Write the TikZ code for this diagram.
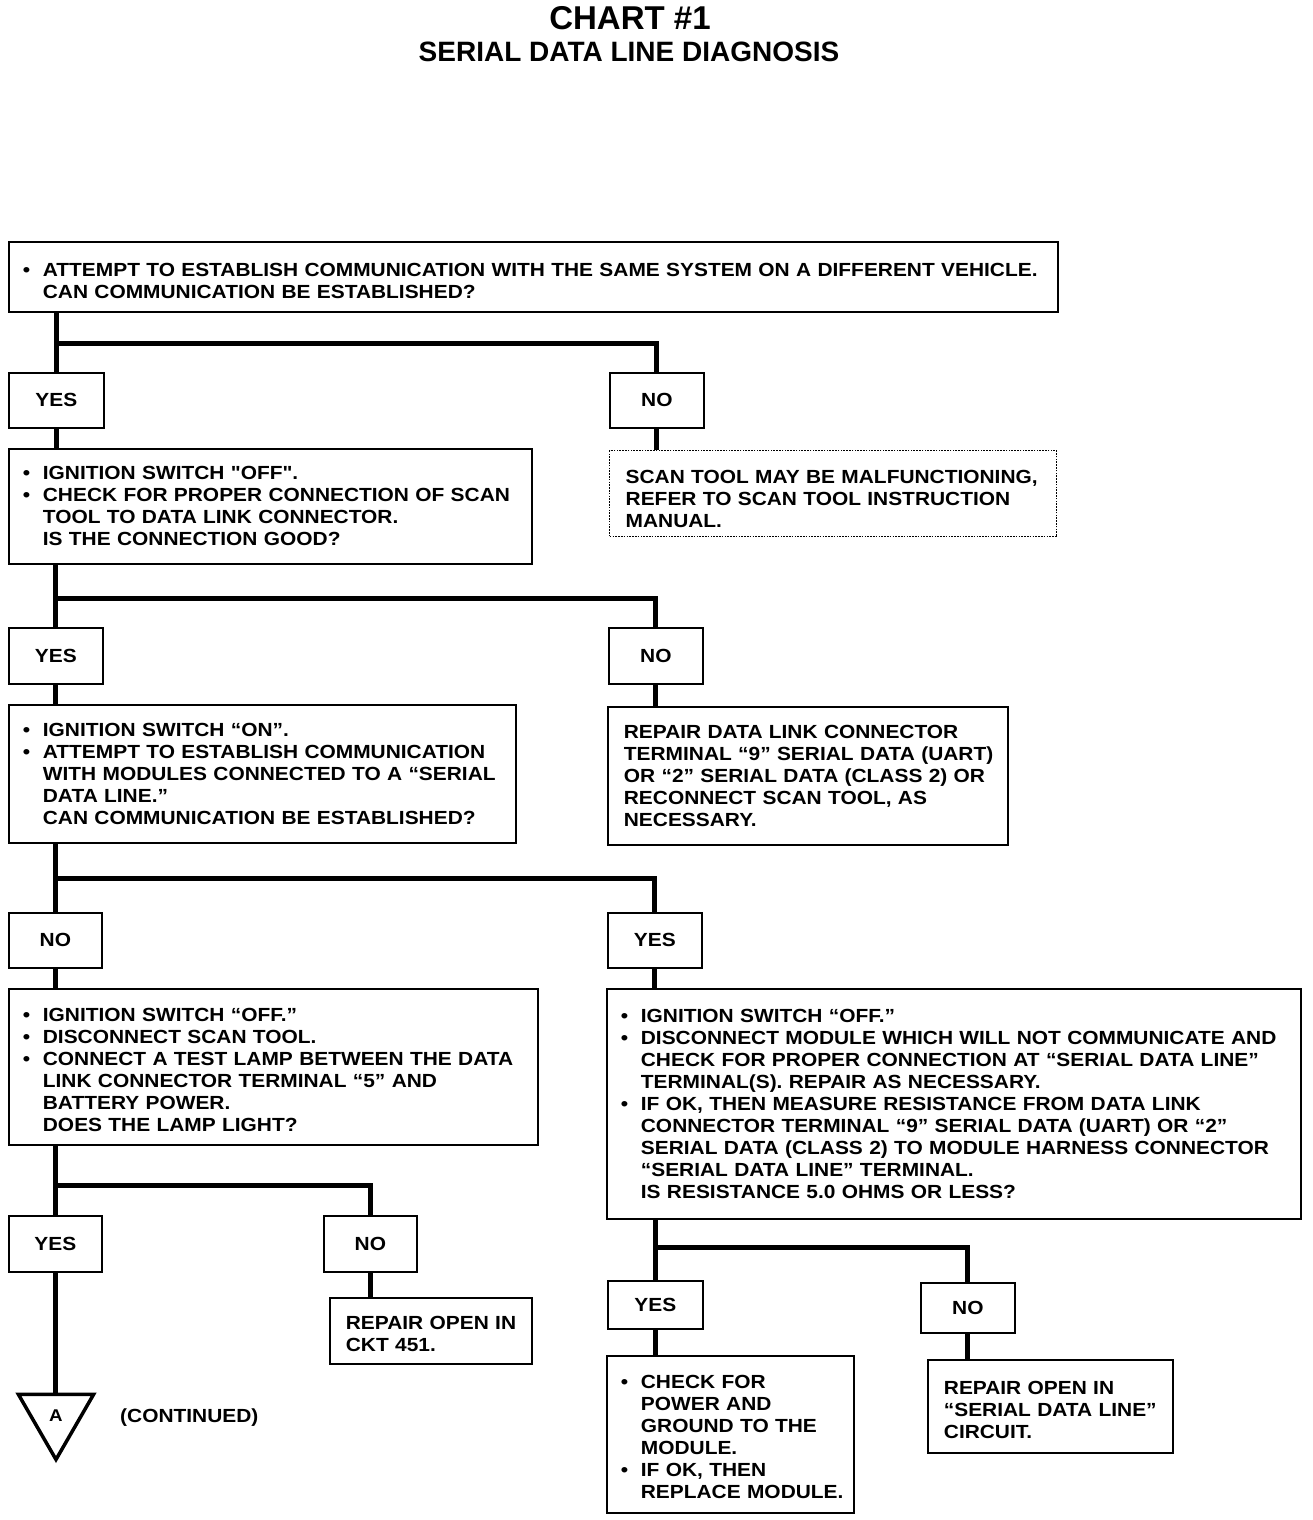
\documentclass[tikz,border=0pt]{standalone}
\usepackage{fontspec}
\usetikzlibrary{shapes.geometric}
\newfontfamily\chartfont{Liberation Sans Bold}[FakeStretch=1.1]
\newfontfamily\titlefont{Liberation Sans Bold}
\newcommand\bu{\hspace*{14pt}\makebox[20pt][l]{•}}
\newcommand\ind{\hspace*{34pt}}
\newcommand\pl{\hspace*{16pt}}
\newcommand\up[1]{\rule{0pt}{#1pt}}
\tikzset{
  box/.style={draw, line width=1.8pt, anchor=north west, inner xsep=0pt, inner ysep=0pt,
    align=left, font=\chartfont\fontsize{19}{22}\selectfont},
  dotbox/.style={box, dash pattern=on 1.6pt off 1.2pt, line width=1.4pt},
  ans/.style={draw, line width=1.8pt, anchor=north west, inner sep=0pt,
    font=\chartfont\fontsize{19}{22}\selectfont},
  conn/.style={draw, line width=5pt},
  tri/.style={draw, line width=3.5pt, regular polygon, regular polygon sides=3,
    shape border rotate=180, minimum size=87pt, inner sep=0pt,
    font=\chartfont\fontsize{17}{20}\selectfont},
}
\begin{document}
\begin{tikzpicture}[x=1pt,y=-1pt]
\useasboundingbox (0,0) rectangle (1312,1520);
\node[font=\titlefont\fontsize{33}{36}\selectfont] (t1) at (630,18) {CHART \#1};
\node[font=\titlefont\fontsize{28}{30}\selectfont] (t2) at (629,52) {SERIAL DATA LINE DIAGNOSIS};

% level 1
\node[box, text width=1049pt, minimum height=70pt] (b1) at (8,241)
 {\up{22}\bu ATTEMPT TO ESTABLISH COMMUNICATION WITH THE SAME SYSTEM ON A DIFFERENT VEHICLE.\\
  \ind CAN COMMUNICATION BE ESTABLISHED?};
\node[ans, minimum width=95pt, minimum height=55pt] (yes1) at (8,372) {YES};
\node[ans, minimum width=94pt, minimum height=55pt] (no1) at (609,372) {NO};
\node[dotbox, text width=447pt, minimum height=86pt] (b2) at (609,450)
 {\up{24}\pl SCAN TOOL MAY BE MALFUNCTIONING,\\
  \pl REFER TO SCAN TOOL INSTRUCTION\\
  \pl MANUAL.};
\node[box, text width=523pt, minimum height=115pt] (b3) at (8,448)
 {\bu IGNITION SWITCH "OFF".\\
  \bu CHECK FOR PROPER CONNECTION OF SCAN\\
  \ind TOOL TO DATA LINK CONNECTOR.\\
  \ind IS THE CONNECTION GOOD?};

% level 2
\node[ans, minimum width=94pt, minimum height=56pt] (yes2) at (8,627) {YES};
\node[ans, minimum width=94pt, minimum height=56pt] (no2) at (608,627) {NO};
\node[box, text width=507pt, minimum height=138pt] (b4) at (8,704)
 {\bu IGNITION SWITCH “ON”.\\
  \bu ATTEMPT TO ESTABLISH COMMUNICATION\\
  \ind WITH MODULES CONNECTED TO A “SERIAL\\
  \ind DATA LINE.”\\
  \ind CAN COMMUNICATION BE ESTABLISHED?};
\node[box, text width=400pt, minimum height=138pt] (b5) at (607,706)
 {\pl REPAIR DATA LINK CONNECTOR\\
  \pl TERMINAL “9” SERIAL DATA (UART)\\
  \pl OR “2” SERIAL DATA (CLASS 2) OR\\
  \pl RECONNECT SCAN TOOL, AS\\
  \pl NECESSARY.};

% level 3
\node[ans, minimum width=93pt, minimum height=55pt] (no3) at (8,912) {NO};
\node[ans, minimum width=94pt, minimum height=55pt] (yes3) at (607,912) {YES};
\node[box, text width=529pt, minimum height=156pt] (b6) at (8,988)
 {\up{19}\bu IGNITION SWITCH “OFF.”\\
  \bu DISCONNECT SCAN TOOL.\\
  \bu CONNECT A TEST LAMP BETWEEN THE DATA\\
  \ind LINK CONNECTOR TERMINAL “5” AND\\
  \ind BATTERY POWER.\\
  \ind DOES THE LAMP LIGHT?};
\node[box, text width=694pt, minimum height=230pt] (b7) at (606,988)
 {\bu IGNITION SWITCH “OFF.”\\
  \bu DISCONNECT MODULE WHICH WILL NOT COMMUNICATE AND\\
  \ind CHECK FOR PROPER CONNECTION AT “SERIAL DATA LINE”\\
  \ind TERMINAL(S). REPAIR AS NECESSARY.\\
  \bu IF OK, THEN MEASURE RESISTANCE FROM DATA LINK\\
  \ind CONNECTOR TERMINAL “9” SERIAL DATA (UART) OR “2”\\
  \ind SERIAL DATA (CLASS 2) TO MODULE HARNESS CONNECTOR\\
  \ind “SERIAL DATA LINE” TERMINAL.\\
  \ind IS RESISTANCE 5.0 OHMS OR LESS?};

% level 4 left
\node[ans, minimum width=93pt, minimum height=56pt] (yes4) at (8,1215) {YES};
\node[ans, minimum width=93pt, minimum height=56pt] (no4) at (323,1215) {NO};
\node[box, text width=202pt, minimum height=66pt] (b8) at (329,1297)
 {\up{19}\pl REPAIR OPEN IN\\
  \pl CKT 451.};
\node[tri] (tri) at (56,1416) {A};
\node[anchor=west, font=\chartfont\fontsize{19}{22}\selectfont, inner sep=0pt] (cont) at (120,1418) {(CONTINUED)};

% level 4 right
\node[ans, minimum width=95pt, minimum height=48pt] (yes5) at (607,1280) {YES};
\node[ans, minimum width=94pt, minimum height=50pt] (no5) at (920,1282) {NO};
\node[box, text width=247pt, minimum height=157pt] (b9) at (606,1355)
 {\up{19}\bu CHECK FOR\\
  \ind POWER AND\\
  \ind GROUND TO THE\\
  \ind MODULE.\\
  \bu IF OK, THEN\\
  \ind REPLACE MODULE.};
\node[box, text width=245pt, minimum height=93pt] (b10) at (927,1359)
 {\up{20}\pl REPAIR OPEN IN\\
  \pl “SERIAL DATA LINE”\\
  \pl CIRCUIT.};

% junctions
\coordinate (j1) at (56,343);
\coordinate (j2) at (55,598);
\coordinate (j3) at (54.5,878);
\coordinate (j4) at (54.5,1185);
\coordinate (j5) at (654.5,1247);

% connectors
\draw[conn] (b1.south -| yes1.north) -- (yes1.north);
\draw[conn] (j1) -| (no1.north);
\draw[conn] (yes1.south) -- (yes1.south |- b3.north);
\draw[conn] (no1.south) -- (no1.south |- b2.north);

\draw[conn] (b3.south -| yes2.north) -- (yes2.north);
\draw[conn] (j2) -| (no2.north);
\draw[conn] (yes2.south) -- (yes2.south |- b4.north);
\draw[conn] (no2.south) -- (no2.south |- b5.north);

\draw[conn] (b4.south -| no3.north) -- (no3.north);
\draw[conn] (j3) -| (yes3.north);
\draw[conn] (no3.south) -- (no3.south |- b6.north);
\draw[conn] (yes3.south) -- (yes3.south |- b7.north);

\draw[conn] (b6.south -| yes4.north) -- (yes4.north);
\draw[conn] (j4) -| (no4.north);
\draw[conn] (yes4.south) -- (yes4.south |- tri.north);
\draw[conn] (no4.south) -- (no4.south |- b8.north);

\draw[conn] (b7.south -| yes5.north) -- (yes5.north);
\draw[conn] (j5) -| (no5.north);
\draw[conn] (yes5.south) -- (yes5.south |- b9.north);
\draw[conn] (no5.south) -- (no5.south |- b10.north);
\end{tikzpicture}
\end{document}
